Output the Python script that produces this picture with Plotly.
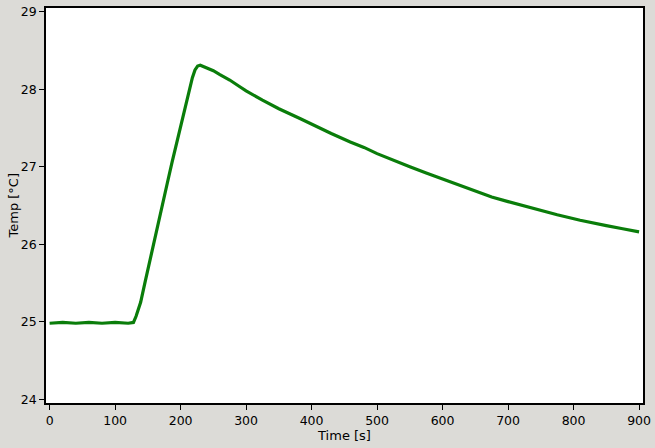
import plotly.graph_objects as go

time_s = [0, 20, 40, 60, 80, 100, 120, 128, 132, 139, 146, 154, 163, 172, 180, 187, 195, 202, 208, 213, 218, 222, 226, 230,
          240, 250, 260, 275, 291, 300, 325, 350, 383, 400, 430, 459, 480, 500, 525, 550, 575, 600, 625, 657, 675,
          700, 725, 750, 775, 810, 825, 850, 875, 900]
temp_c = [24.98, 24.99, 24.98, 24.99, 24.98, 24.99, 24.98, 24.99, 25.07, 25.25, 25.52, 25.83, 26.17, 26.51, 26.8, 27.06,
          27.35, 27.6, 27.82, 27.99, 28.15, 28.25, 28.3, 28.31,
          28.28, 28.24, 28.19, 28.12, 28.03, 27.98, 27.86, 27.75, 27.62, 27.55, 27.43, 27.32, 27.25, 27.17, 27.08,
          27.0, 26.92, 26.84, 26.76, 26.66, 26.61, 26.55, 26.49, 26.43, 26.38, 26.31, 26.28, 26.24, 26.2, 26.16]

x_ticks = [0, 100, 200, 300, 400, 500, 600, 700, 800, 900]
y_ticks = [24, 25, 26, 27, 28, 29]

fig = go.Figure()
fig.add_trace(go.Scatter(
    x=time_s, y=temp_c, mode="lines",
    line=dict(color="#0a7d0a", width=3.2),
    showlegend=False,
))

axis_common = dict(
    showline=True, linecolor="black", linewidth=1.5, mirror=True,
    ticks="outside", ticklen=5, tickcolor="black", tickwidth=1,
    showgrid=False, zeroline=False, automargin=False,
    tickfont=dict(family="DejaVu Sans", size=12.5, color="black"),
)

fig.update_layout(
    width=655, height=448,
    margin=dict(l=46, r=12, t=8, b=45),
    paper_bgcolor="#dcdbd7", plot_bgcolor="white",
    font=dict(family="DejaVu Sans", size=13, color="black"),
    xaxis=dict(range=[-5.5, 906], tickvals=x_ticks,
               title=dict(text="Time [s]", standoff=4, font=dict(size=13)), **axis_common),
    yaxis=dict(range=[23.95, 29.05], tickvals=y_ticks, **axis_common),
    annotations=[dict(text="Temp [°C]", textangle=-90, xref="paper", yref="paper",
                      x=(13 - 46) / 597, y=0.5, xanchor="center", yanchor="middle",
                      showarrow=False, font=dict(size=13))],
)

fig.write_html("out.html", config={"displayModeBar": False},
               post_script="document.body.style.margin='0';document.body.style.overflow='hidden';")
